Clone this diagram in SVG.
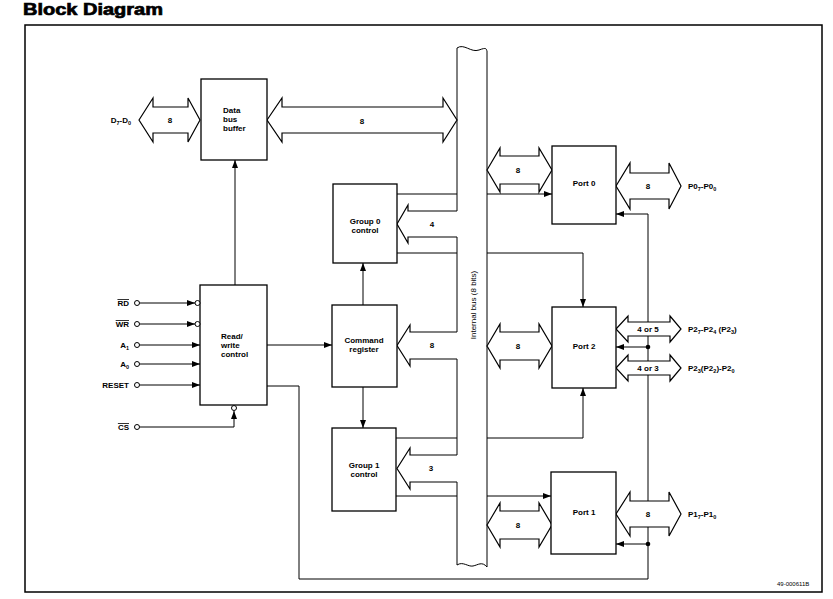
<svg xmlns="http://www.w3.org/2000/svg" width="833" height="599" viewBox="0 0 833 599">
<defs>
<style>
.box{fill:#fff;stroke:#000;stroke-width:1.3}
.ln{fill:none;stroke:#000;stroke-width:1}
.dbl{fill:#fff;stroke:#000;stroke-width:1.2;stroke-linejoin:miter}
.t{font-family:"Liberation Sans",Arial,sans-serif;font-size:8px;font-weight:bold;fill:#000}
.c{text-anchor:middle}
.e{text-anchor:end}
.pin{fill:#fff;stroke:#000;stroke-width:1}
</style>
<marker id="ah" viewBox="0 0 8 6" refX="8" refY="3" markerWidth="8" markerHeight="6" markerUnits="userSpaceOnUse" orient="auto">
<path d="M0,0 L8,3 L0,6 Z" fill="#000"/>
</marker>
</defs>
<rect width="833" height="599" fill="#fff"/>
<text x="23" y="15" font-family="'Liberation Sans',Arial,sans-serif" font-size="16" font-weight="900" stroke="#000" stroke-width="0.7" textLength="140" lengthAdjust="spacingAndGlyphs">Block Diagram</text>
<rect x="25" y="25" width="797" height="567" fill="none" stroke="#000" stroke-width="1.5"/>

<g id="internal-bus">
<path class="ln" stroke-width="1.3" d="M457,48 C464,43 471,53 479,50 S486,49 487,51 M457,48 V211 M457,237 V332 M457,359 V455 M457,482 V565 M487,51 V567 M457,565 C463,561 468,567 473,566 S482,561 487,567"/>
<text class="t c" style="font-weight:normal" transform="translate(476,305) rotate(-90)">Internal bus (8 bits)</text>
</g>

<g id="connectors">
<path class="dbl" d="M139,120 L153,98 V107 H188 V98 L200,120 L188,142 V133 H153 V142 Z"/>
<path class="dbl" d="M267,120 L282,98 V107 H443 V98 L457,120 L443,142 V133 H282 V142 Z"/>
<path class="dbl" d="M457,211 H408 V205 L397,224 L408,243 V237 H457"/>
<path class="dbl" d="M457,332 H410 V325 L397,345.5 L410,366 V359 H457"/>
<path class="dbl" d="M457,455 H410 V448 L397,468.5 L410,489 V482 H457"/>
<path class="dbl" d="M487,170 L500,148 V156 H539 V148 L552,170 L539,192 V184 H500 V192 Z"/>
<path class="dbl" d="M487,346 L500,324 V332 H539 V324 L552,346 L539,368 V360 H500 V368 Z"/>
<path class="dbl" d="M487,525 L500,503 V511 H539 V503 L552,525 L539,547 V539 H500 V547 Z"/>
<path class="ln" d="M267,386 H299 V579 H648 V214 H616" marker-end="url(#ah)"/>
<path class="ln" d="M648,347 H616" marker-end="url(#ah)"/>
<path class="ln" d="M648,544 H616" marker-end="url(#ah)"/>
<circle cx="648" cy="347" r="2.3" fill="#000"/>
<circle cx="648" cy="544" r="2.3" fill="#000"/>
<path class="dbl" d="M616,186 L630,163 V173 H669 V163 L681,186 L669,209 V199 H630 V209 Z"/>
<path class="dbl" d="M616,329 L628,316 V322 H670 V316 L681,329 L670,342 V336 H628 V342 Z"/>
<path class="dbl" d="M616,368 L628,355 V361 H670 V355 L681,368 L670,381 V375 H628 V381 Z"/>
<path class="dbl" d="M616,514 L630,492 V501 H669 V492 L681,514 L669,536 V527 H630 V536 Z"/>
<path class="ln" d="M397,194 H457"/>
<path class="ln" d="M487,194 H552" marker-end="url(#ah)"/>
<path class="ln" d="M397,253 H457"/>
<path class="ln" d="M487,253 H583 V307" marker-end="url(#ah)"/>
<path class="ln" d="M396,438 H457"/>
<path class="ln" d="M487,438 H583 V388" marker-end="url(#ah)"/>
<path class="ln" d="M396,496 H457"/>
<path class="ln" d="M487,496 H551" marker-end="url(#ah)"/>
<path class="ln" d="M363,305 V263" marker-end="url(#ah)"/>
<path class="ln" d="M363,387 V428" marker-end="url(#ah)"/>
<path class="ln" d="M267,345 H332" marker-end="url(#ah)"/>
<path class="ln" d="M235,285 V160" marker-end="url(#ah)"/>
<path class="ln" d="M139.5,303 H195" marker-end="url(#ah)"/>
<path class="ln" d="M139.5,324 H195" marker-end="url(#ah)"/>
<path class="ln" d="M139.5,345 H200" marker-end="url(#ah)"/>
<path class="ln" d="M139.5,364 H200" marker-end="url(#ah)"/>
<path class="ln" d="M139.5,385 H200" marker-end="url(#ah)"/>
<path class="ln" d="M139.5,427 H234 V411" marker-end="url(#ah)"/>
<circle class="pin" cx="137" cy="303" r="2.5"/>
<circle class="pin" cx="137" cy="324" r="2.5"/>
<circle class="pin" cx="137" cy="345" r="2.5"/>
<circle class="pin" cx="137" cy="364" r="2.5"/>
<circle class="pin" cx="137" cy="385" r="2.5"/>
<circle class="pin" cx="137" cy="427" r="2.5"/>
<text class="t c" x="170" y="123">8</text>
<text class="t c" x="362" y="124">8</text>
<text class="t c" x="432" y="227">4</text>
<text class="t c" x="432" y="348">8</text>
<text class="t c" x="431" y="471">3</text>
<text class="t c" x="518" y="173">8</text>
<text class="t c" x="518" y="349">8</text>
<text class="t c" x="518" y="528">8</text>
<text class="t c" x="648" y="189">8</text>
<text class="t c" x="648" y="332">4 or 5</text>
<text class="t c" x="648" y="371">4 or 3</text>
<text class="t c" x="648" y="517">8</text>
</g>

<g id="data-bus-buffer">
<rect class="box" x="201" y="79" width="66" height="81"/>
<text class="t" x="223" y="113">Data</text>
<text class="t" x="223" y="122">bus</text>
<text class="t" x="223" y="131">buffer</text>
</g>

<g id="read-write-control">
<rect class="box" x="200" y="285" width="67" height="120"/>
<circle class="pin" cx="197.5" cy="303" r="2.5"/>
<circle class="pin" cx="197.5" cy="324" r="2.5"/>
<circle class="pin" cx="234" cy="408" r="2.5"/>
<text class="t" x="221" y="339">Read/</text>
<text class="t" x="221" y="348">write</text>
<text class="t" x="221" y="357">control</text>
</g>

<g id="group0-control">
<rect class="box" x="333" y="184" width="64" height="79"/>
<text class="t c" x="365" y="224">Group 0</text>
<text class="t c" x="365" y="233">control</text>
</g>

<g id="command-register">
<rect class="box" x="332" y="305" width="65" height="82"/>
<text class="t c" x="364" y="343">Command</text>
<text class="t c" x="364" y="352">register</text>
</g>

<g id="group1-control">
<rect class="box" x="332" y="428" width="64" height="83"/>
<text class="t c" x="364" y="468">Group 1</text>
<text class="t c" x="364" y="477">control</text>
</g>

<g id="port0">
<rect class="box" x="552" y="146" width="64" height="78"/>
<text class="t c" x="584" y="186">Port 0</text>
</g>

<g id="port2">
<rect class="box" x="552" y="307" width="64" height="81"/>
<text class="t c" x="584" y="349">Port 2</text>
</g>

<g id="port1">
<rect class="box" x="551" y="472" width="65" height="82"/>
<text class="t c" x="584" y="515">Port 1</text>
</g>

<g id="pin-labels">
<text class="t e" x="131" y="123">D<tspan font-size="5.5" dy="2">7</tspan><tspan dy="-2">-D</tspan><tspan font-size="5.5" dy="2">0</tspan></text>
<text class="t e" x="129" y="306" text-decoration="overline">RD</text>
<text class="t e" x="129" y="327" text-decoration="overline">WR</text>
<text class="t e" x="129" y="348">A<tspan font-size="5.5" dy="2">1</tspan></text>
<text class="t e" x="129" y="367">A<tspan font-size="5.5" dy="2">0</tspan></text>
<text class="t e" x="129" y="388">RESET</text>
<text class="t e" x="129" y="430" text-decoration="overline">CS</text>
<text class="t" x="688" y="189">P0<tspan font-size="5.5" dy="2">7</tspan><tspan dy="-2">-P0</tspan><tspan font-size="5.5" dy="2">0</tspan></text>
<text class="t" x="688" y="332">P2<tspan font-size="5.5" dy="2">7</tspan><tspan dy="-2">-P2</tspan><tspan font-size="5.5" dy="2">4</tspan><tspan dy="-2"> (P2</tspan><tspan font-size="5.5" dy="2">3</tspan><tspan dy="-2">)</tspan></text>
<text class="t" x="688" y="371">P2<tspan font-size="5.5" dy="2">3</tspan><tspan dy="-2">(P2</tspan><tspan font-size="5.5" dy="2">2</tspan><tspan dy="-2">)-P2</tspan><tspan font-size="5.5" dy="2">0</tspan></text>
<text class="t" x="688" y="517">P1<tspan font-size="5.5" dy="2">7</tspan><tspan dy="-2">-P1</tspan><tspan font-size="5.5" dy="2">0</tspan></text>
<text x="777" y="586" font-family="'Liberation Sans',Arial,sans-serif" font-size="6">49-000611B</text>
</g>
</svg>
